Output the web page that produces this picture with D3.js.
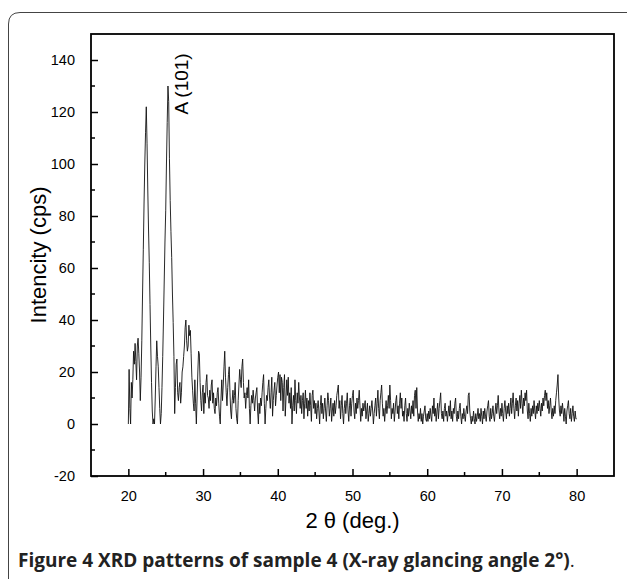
<!DOCTYPE html>
<html>
<head>
<meta charset="utf-8">
<script src="https://cdn.jsdelivr.net/npm/d3@7"></script>
<style>
  body { margin: 0; background: #fff; }
  svg { display: block; }
</style>
</head>
<body>
<div id="chart"></div>
<script>
// XRD pattern, sample 4

const startAngle = 20;   // 2 theta of first point
const stepAngle = 0.1;   // scan step

// intensity (cps), one row per degree, 20.0 .. 80.0
const intensity = [
  0, 21, 6, 0, 16, 10, 17, 28, 23, 31,
  24, 17, 30, 33, 27, 20, 9, 18, 32, 50,
  67, 85, 100, 112, 122, 108, 90, 75, 62, 46,
  30, 16, 5, 0, 2, 0, 10, 22, 32, 26,
  22, 14, 6, 0, 4, 14, 26, 40, 55, 70,
  82, 100, 116, 130, 124, 102, 86, 74, 64, 50,
  39, 26, 4, 14, 23, 25, 12, 9, 14, 16,
  8, 12, 20, 22, 26, 30, 37, 40, 32, 28,
  30, 38, 34, 36, 27, 18, 13, 8, 5, 17,
  8, 0, 10, 20, 28, 27, 16, 9, 5, 12,
  15, 4, 12, 8, 16, 19, 11, 10, 6, 13,
  9, 15, 17, 8, 12, 6, 4, 10, 7, 12,
  14, 8, 3, 0, 10, 17, 9, 15, 22, 28,
  18, 12, 7, 14, 19, 22, 12, 5, 2, 9,
  13, 8, 11, 16, 6, 2, 0, 9, 15, 21,
  17, 14, 22, 25, 16, 10, 12, 6, 11, 14,
  10, 17, 6, 0, 7, 11, 8, 13, 9, 5,
  10, 12, 14, 5, 0, 8, 4, 10, 7, 12,
  16, 19, 8, 0, 6, 11, 9, 14, 17, 10,
  6, 12, 18, 3, 9, 13, 16, 7, 11, 15,
  18, 20, 12, 19, 9, 18, 16, 5, 14, 19,
  3, 10, 17, 11, 18, 8, 12, 6, 14, 0,
  7, 11, 5, 17, 9, 4, 12, 8, 16, 10,
  6, 11, 4, 9, 12, 2, 8, 13, 6, 10,
  3, 9, 5, 12, 7, 1, 11, 13, 6, 9,
  4, 8, 2, 6, 9, 5, 0, 7, 11, 4,
  8, 2, 6, 10, 5, 1, 7, 12, 9, 3,
  6, 10, 1, 5, 8, 3, 9, 4, 7, 11,
  13, 15, 6, 9, 2, 7, 11, 4, 0, 6,
  9, 4, 8, 12, 5, 1, 7, 10, 3, 8,
  11, 13, 5, 2, 8, 4, 10, 6, 9, 13,
  7, 1, 6, 3, 8, 5, 7, 9, 2, 5,
  8, 1, 4, 7, 3, 6, 9, 5, 0, 4,
  7, 10, 3, 8, 13, 6, 2, 9, 12, 15,
  8, 3, 6, 1, 5, 9, 4, 7, 11, 6,
  15, 9, 2, 6, 4, 8, 1, 5, 9, 11,
  4, 7, 2, 8, 12, 6, 10, 3, 5, 1,
  7, 10, 4, 1, 6, 3, 8, 5, 2, 7,
  4, 9, 3, 11, 13, 6, 14, 5, 1, 4,
  2, 6, 1, 4, 0, 3, 5, 7, 2, 1,
  4, 1, 5, 2, 6, 3, 1, 7, 4, 10,
  3, 6, 1, 5, 8, 2, 6, 9, 12, 4,
  2, 5, 1, 6, 8, 3, 5, 1, 4, 7,
  3, 9, 2, 5, 1, 6, 4, 8, 10, 3,
  1, 5, 2, 6, 8, 3, 0, 4, 2, 6,
  3, 1, 5, 7, 4, 11, 12, 5, 2, 0,
  3, 1, 5, 2, 0, 4, 1, 3, 6, 2,
  4, 1, 6, 3, 0, 5, 2, 6, 3, 1,
  5, 7, 9, 3, 1, 6, 2, 4, 7, 3,
  1, 5, 8, 4, 7, 11, 5, 2, 6, 3,
  8, 4, 1, 6, 9, 5, 2, 7, 4, 8,
  3, 6, 10, 4, 8, 12, 6, 2, 7, 10,
  5, 9, 3, 8, 11, 6, 13, 8, 4, 10,
  7, 12, 9, 13, 5, 2, 8, 4, 1, 6,
  3, 7, 4, 9, 5, 2, 7, 4, 8, 5,
  9, 6, 3, 8, 5, 10, 7, 11, 13, 9,
  12, 6, 9, 4, 7, 10, 5, 2, 6, 3,
  7, 4, 9, 12, 15, 19, 10, 5, 3, 7,
  4, 8, 5, 1, 6, 3, 0, 5, 7, 9,
  4, 2, 6, 1, 4, 7, 3, 1, 5, 2,
  2
];

const xTicks = [20, 30, 40, 50, 60, 70, 80];
const yTicks = [-20, 0, 20, 40, 60, 80, 100, 120, 140];
const peakLabel = "A (101)";
const peakLabelAt = [28, 119];

const xTitle = "2 \u03b8 (deg.)";
const yTitle = "Intencity (cps)";
const captionBold = "Figure 4 XRD patterns of sample 4 (X-ray glancing angle 2\u00b0)";

const width = 627, height = 579;
const plot = { left: 91, right: 614, top: 34, bottom: 476 };

const svg = d3.select("#chart").append("svg")
    .attr("width", width)
    .attr("height", height)
    .style("font-family", "'Liberation Sans', Arial, sans-serif");

// page frame (rounded, cut off at right and bottom)
svg.append("path")
    .attr("d", `M8.5,${height} L8.5,24 Q8.5,12.5 20,12.5 L${width},12.5`)
    .attr("fill", "none")
    .attr("stroke", "#444")
    .attr("stroke-width", 1);

const x = d3.scaleLinear().domain([15, 85]).range([plot.left, plot.right]);
const y = d3.scaleLinear().domain([-20, 150]).range([plot.bottom, plot.top]);

const points = intensity.map((v, i) => [startAngle + i * stepAngle, v]);

const line = d3.line()
    .x(d => x(d[0]))
    .y(d => y(d[1]));

svg.append("path")
    .datum(points)
    .attr("fill", "none")
    .attr("stroke", "#111")
    .attr("stroke-width", 0.9)
    .attr("stroke-linejoin", "round")
    .attr("d", line);

// axes, ticks inward
const xAxis = d3.axisBottom(x).tickValues(xTicks).tickSize(-7).tickPadding(15).tickFormat(d => String(d));
const yAxis = d3.axisLeft(y).tickValues(yTicks).tickSize(-7).tickPadding(16).tickFormat(d => String(d));

const gx = svg.append("g")
    .attr("transform", `translate(0,${plot.bottom})`)
    .call(xAxis);
const gy = svg.append("g")
    .attr("transform", `translate(${plot.left},0)`)
    .call(yAxis);

// minor ticks
gx.selectAll(".minor")
    .data(xTicks.map(d => d + 5).filter(d => d < 85))
    .enter().append("line")
    .attr("x1", d => x(d)).attr("x2", d => x(d))
    .attr("y1", 0).attr("y2", -4)
    .attr("stroke", "#000").attr("stroke-width", 1.5);
gy.selectAll(".minor")
    .data(yTicks.map(d => d + 10).filter(d => d < 150))
    .enter().append("line")
    .attr("y1", d => y(d)).attr("y2", d => y(d))
    .attr("x1", 0).attr("x2", 4)
    .attr("stroke", "#000").attr("stroke-width", 1.5);

[gx, gy].forEach(g => {
  g.select(".domain").remove();
  g.selectAll(".tick line").attr("stroke", "#000").attr("stroke-width", 1.5);
  g.selectAll(".tick text")
    .attr("fill", "#000")
    .style("font-family", "'Liberation Sans', Arial, sans-serif")
    .style("font-size", "14.5px");
});

// plot box
svg.append("rect")
    .attr("x", plot.left)
    .attr("y", plot.top)
    .attr("width", plot.right - plot.left)
    .attr("height", plot.bottom - plot.top)
    .attr("fill", "none")
    .attr("stroke", "#000")
    .attr("stroke-width", 1.8);

// peak label
svg.append("text")
    .attr("transform", `translate(${x(peakLabelAt[0])},${y(peakLabelAt[1])}) rotate(-90)`)
    .style("font-size", "19px")
    .text(peakLabel);

// axis titles
svg.append("text")
    .attr("x", (plot.left + plot.right) / 2)
    .attr("y", 528)
    .attr("text-anchor", "middle")
    .style("font-size", "22px")
    .text(xTitle);

svg.append("text")
    .attr("transform", `translate(46,${(plot.top + plot.bottom) / 2}) rotate(-90)`)
    .attr("text-anchor", "middle")
    .style("font-size", "22px")
    .text(yTitle);

// caption
const cap = svg.append("text")
    .attr("x", 18)
    .attr("y", 567)
    .style("font-family", "'Open Sans', 'Noto Sans', sans-serif")
    .style("font-size", "19px")
    .attr("fill", "#222");
cap.append("tspan").attr("font-weight", "bold").text(captionBold);
cap.append("tspan").text(".");
</script>
</body>
</html>
